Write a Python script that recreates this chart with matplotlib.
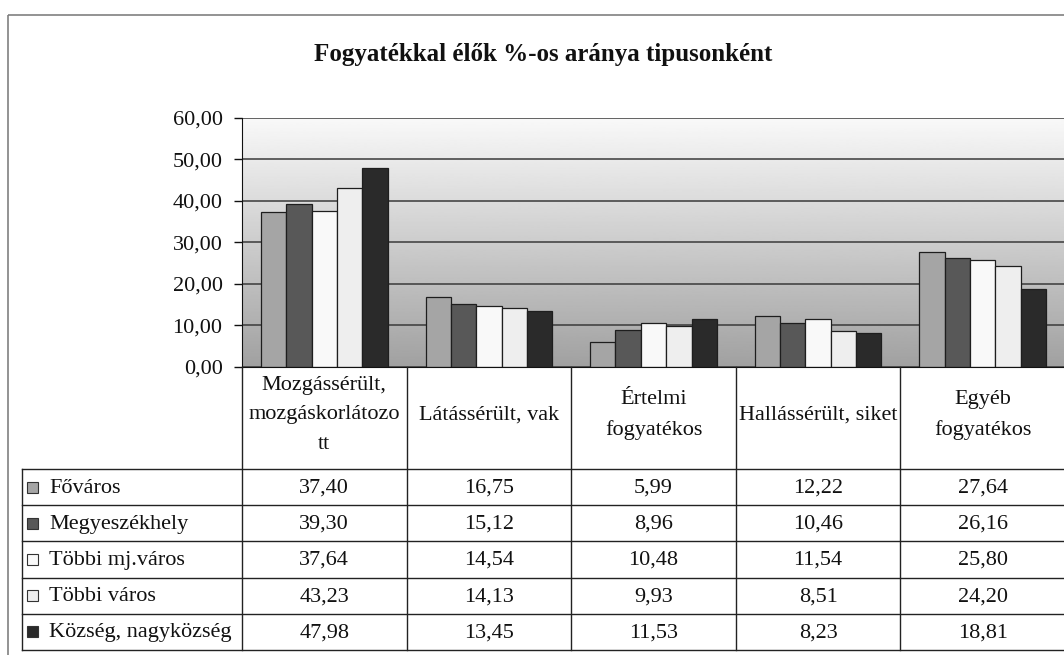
import matplotlib.pyplot as plt
import matplotlib.transforms as mtransforms
from matplotlib.patches import Rectangle
from matplotlib.ticker import FuncFormatter
import numpy as np

plt.rcParams['font.family'] = ['Liberation Serif', 'DejaVu Serif']

title = 'Fogyatékkal élők %-os aránya tipusonként'
categories = ['Mozgássérült,\nmozgáskorlátozo\ntt', 'Látássérült, vak',
              'Értelmi\nfogyatékos', 'Hallássérült, siket', 'Egyéb\nfogyatékos']
series_names = ['Főváros', 'Megyeszékhely', 'Többi mj.város', 'Többi város',
                'Község, nagyközség']

fovaros = [37.40, 16.75, 5.99, 12.22, 27.64]
megyeszekhely = [39.30, 15.12, 8.96, 10.46, 26.16]
tobbi_mj_varos = [37.64, 14.54, 10.48, 11.54, 25.80]
tobbi_varos = [43.23, 14.13, 9.93, 8.51, 24.20]
kozseg = [47.98, 13.45, 11.53, 8.23, 18.81]
series = [fovaros, megyeszekhely, tobbi_mj_varos, tobbi_varos, kozseg]

colors = ['#a5a5a5', '#585858', '#f9f9f9', '#eeeeee', '#2a2a2a']
yticks = [0, 10, 20, 30, 40, 50, 60]

W, H = 1064, 655
fig = plt.figure(figsize=(W / 100, H / 100), dpi=100)


def px_axes(x0, y0, x1, y1):
    # axes from pixel box (y measured from top)
    return fig.add_axes([x0 / W, 1 - y1 / H, (x1 - x0) / W, (y1 - y0) / H])


def comma(v, pos=None):
    return f'{v:.2f}'.replace('.', ',')


FS = 16

# bar chart
ax = px_axes(242, 118, 1065, 366.7)
x = np.arange(len(categories))
bw = 0.154
grad = np.linspace(0.63, 0.975, 256).reshape(-1, 1)
ax.imshow(grad, cmap='gray', vmin=0, vmax=1, origin='lower', aspect='auto',
          extent=(-0.5, len(categories) - 0.5, 0, 60), zorder=0)
for i, (vals, col) in enumerate(zip(series, colors)):
    ax.bar(x + (i - 2) * bw, vals, bw, color=col, edgecolor='#1e1e1e',
           linewidth=0.9, zorder=2)
ax.set_xlim(-0.5, len(categories) - 0.5)
ax.set_ylim(0, 60)
ax.set_yticks(yticks)
ax.yaxis.set_major_formatter(FuncFormatter(comma))
ax.yaxis.grid(True, color='#3a3a3a', linewidth=1.1, zorder=1)
ax.set_axisbelow(True)
ax.set_xticks([])
ax.tick_params(axis='y', length=6, width=1, pad=8, labelsize=FS, colors='#111111')
for s in ['top', 'right']:
    ax.spines[s].set_visible(False)
for s in ['left', 'bottom']:
    ax.spines[s].set_color('#111111')

# overlay in pixel coordinates for frame, title and data table
ov = px_axes(0, 0, W, H)
ov.set_xlim(0, W)
ov.set_ylim(H, 0)
ov.axis('off')
ov.patch.set_visible(False)

ov.add_patch(Rectangle((8, 15), W + 10, H, fill=False, edgecolor='#808080',
                       linewidth=1.2))
ov.text(543, 54, title, ha='center', va='center', fontsize=18,
        fontweight='bold', color='#111111')

tr = mtransforms.blended_transform_factory(ax.transData, ov.transData)
head_top, head_bot = 366.7, 469
row_h = 36.2
n_rows = len(series_names)
table_bot = head_bot + n_rows * row_h
line_kw = dict(color='#222222', linewidth=1.0)

# vertical column lines
for k in range(len(categories) + 1):
    ov.plot([k - 0.5, k - 0.5], [head_top, table_bot], transform=tr, **line_kw)
# left border of legend column
ov.plot([22, 22], [head_bot, table_bot], **line_kw)
# horizontal row lines
for r in range(n_rows + 1):
    y = head_bot + r * row_h
    ov.plot([22, W], [y, y], **line_kw)

# category header labels
for k, cat in enumerate(categories):
    ov.text(k, 415, cat, transform=tr, ha='center',
            va='center', multialignment='center', fontsize=FS,
            linespacing=1.75, color='#111111')

# rows: legend key, name, values
for r, (name, vals, col) in enumerate(zip(series_names, series, colors)):
    yc = head_bot + (r + 0.5) * row_h
    ov.add_patch(Rectangle((27, yc - 5.5), 10.5, 11, facecolor=col,
                           edgecolor='#333333', linewidth=0.8))
    ov.text(49, yc + 1, name, ha='left', va='center', fontsize=FS,
            color='#111111')
    for k, v in enumerate(vals):
        ov.text(k, yc + 1, comma(v), transform=tr, ha='center', va='center',
                fontsize=FS, color='#111111')

fig.savefig('out.png', dpi=100)
